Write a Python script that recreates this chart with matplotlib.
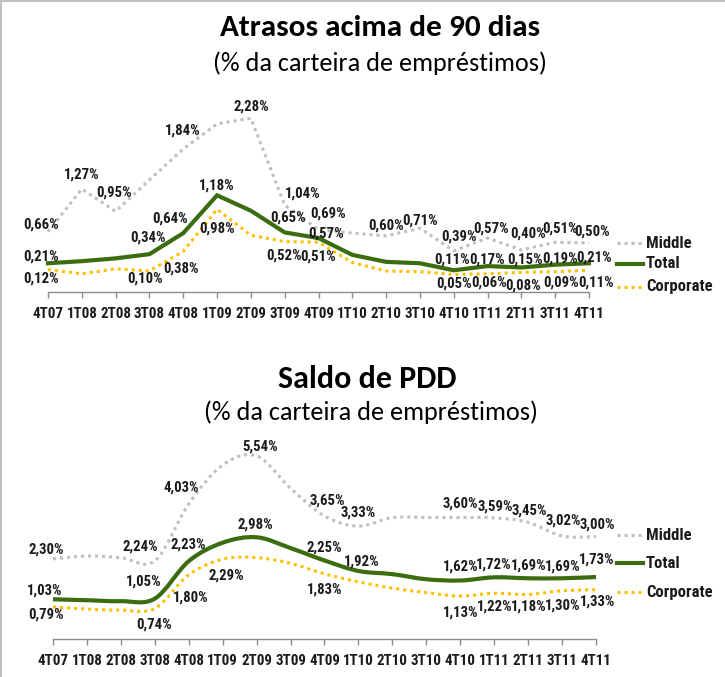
import matplotlib
matplotlib.use('Agg')
import matplotlib.pyplot as plt
from matplotlib import font_manager
from matplotlib.path import Path
from matplotlib.patches import PathPatch
from matplotlib.lines import Line2D

# ---------------- data ----------------
quarters = ['4T07', '1T08', '2T08', '3T08', '4T08', '1T09', '2T09', '3T09', '4T09',
            '1T10', '2T10', '3T10', '4T10', '1T11', '2T11', '3T11', '4T11']

atr_middle = [0.66, 1.27, 0.95, 1.40, 1.84, 2.20, 2.28, 1.04, 0.69, 0.64, 0.60, 0.71, 0.39, 0.57, 0.40, 0.51, 0.50]
atr_total = [0.21, 0.24, 0.28, 0.34, 0.64, 1.18, 0.96, 0.65, 0.57, 0.33, 0.23, 0.21, 0.11, 0.17, 0.15, 0.19, 0.21]
atr_corporate = [0.12, 0.06, 0.13, 0.10, 0.38, 0.98, 0.61, 0.52, 0.51, 0.22, 0.10, 0.09, 0.05, 0.06, 0.08, 0.09, 0.11]

pdd_middle = [2.30, 2.39, 2.34, 2.24, 4.03, 5.25, 5.54, 4.52, 3.65, 3.33, 3.60, 3.60, 3.60, 3.59, 3.45, 3.02, 3.00]
pdd_total = [1.03, 1.00, 0.97, 1.05, 2.23, 2.81, 2.98, 2.64, 2.25, 1.92, 1.82, 1.66, 1.62, 1.72, 1.69, 1.69, 1.73]
pdd_corporate = [0.79, 0.72, 0.69, 0.74, 1.80, 2.29, 2.34, 2.16, 1.83, 1.58, 1.38, 1.24, 1.13, 1.22, 1.18, 1.30, 1.33]

series_names = ['Middle', 'Total', 'Corporate']

# label placement: index -> (dx, dy) offset in pixels
atr_middle_lbl = {0: (-7, 7), 1: (0, 14), 2: (-2, 19), 4: (-1, 19), 6: (0, 12), 7: (18, 12), 8: (10, 16),
                  10: (0, 10), 11: (0, 8), 12: (5, 14), 13: (3, 10), 14: (7, 16), 15: (5, 14), 16: (3, 11)}
atr_total_lbl = {0: (-7, 7), 3: (-1, 17), 4: (-13, 15), 5: (0, 10), 7: (3, 15), 8: (8, 5),
                 12: (-2, 11), 13: (0, 7), 14: (4, 8), 15: (5, 6), 16: (5, 6)}
atr_corp_lbl = {0: (-7, -9), 3: (-4, -8), 4: (-2, -17), 5: (0, -19), 7: (-1, -14), 8: (0, -14),
                12: (0, -9), 13: (1, -9), 14: (2, -13), 15: (6, -11), 16: (7, -12)}

pdd_middle_lbl = {0: (-7, 9), 3: (-14, 14), 4: (-7, 16), 6: (4, 9), 8: (3, 15), 9: (0, 14),
                  12: (0, 14), 13: (1, 11), 14: (1, 12), 15: (1, 15), 16: (1, 12)}
pdd_total_lbl = {0: (-8, 9), 3: (-11, 17), 4: (0, 17), 6: (-1, 13), 8: (0, 13), 9: (3, 9),
                 12: (0, 14), 13: (0, 13), 14: (1, 13), 15: (1, 12), 16: (1, 17)}
pdd_corp_lbl = {0: (-7, -8), 3: (-1, -16), 4: (2, -23), 5: (4, -16), 8: (0, -16),
                12: (0, -16), 13: (1, -13), 14: (1, -12), 15: (1, -15), 16: (2, -12)}

# ---------------- styling ----------------
W, H = 725, 677
names = {f.name for f in font_manager.fontManager.ttflist}
narrow = 'Liberation Sans Narrow' if 'Liberation Sans Narrow' in names else (
    'Roboto Condensed' if 'Roboto Condensed' in names else 'Liberation Sans')
title_font = 'Carlito' if 'Carlito' in names else 'Lato'

C_MID = '#BFBFBF'
C_TOT = '#3B6D10'
C_COR = '#FFC000'
DOT = (0, (1, 1.3))

fig = plt.figure(figsize=(W / 100, H / 100), dpi=100)


def px_rect(l, t, r, b):
    return [l / W, 1 - b / H, (r - l) / W, (b - t) / H]


def smooth_path(xs, ys):
    n = len(xs)
    verts = [(xs[0], ys[0])]
    codes = [Path.MOVETO]
    for i in range(n - 1):
        x0, y0 = xs[max(i - 1, 0)], ys[max(i - 1, 0)]
        x1, y1 = xs[i], ys[i]
        x2, y2 = xs[i + 1], ys[i + 1]
        x3, y3 = xs[min(i + 2, n - 1)], ys[min(i + 2, n - 1)]
        c1 = (x1 + (x2 - x0) / 6, y1 + (y2 - y0) / 6)
        c2 = (x2 - (x3 - x1) / 6, y2 - (y3 - y1) / 6)
        verts += [c1, c2, (x2, y2)]
        codes += [Path.CURVE4] * 3
    return Path(verts, codes)


def draw_panel(rect, ylim, data, lbls, smooth, legend_y):
    ax = fig.add_axes(px_rect(*rect))
    ax.set_xlim(0, len(quarters) - 1)
    ax.set_ylim(*ylim)
    x = list(range(len(quarters)))
    styles = [(C_MID, 2.2, DOT), (C_TOT, 3.0, '-'), (C_COR, 2.2, DOT)]
    for vals, (c, lw, ls) in zip(data, styles):
        if smooth:
            p = PathPatch(smooth_path(x, vals), fill=False, edgecolor=c, lw=lw, linestyle=ls,
                          capstyle='butt', clip_on=False, zorder=3 if ls == '-' else 2)
            ax.add_patch(p)
        else:
            ax.plot(x, vals, color=c, lw=lw, linestyle=ls, clip_on=False,
                    solid_joinstyle='miter', zorder=3 if ls == '-' else 2)
    for vals, lab in zip(data, lbls):
        for i, (dx, dy) in lab.items():
            ax.annotate(f"{vals[i]:.2f}".replace('.', ',') + '%', (i, vals[i]),
                        xytext=(dx, dy), textcoords='offset pixels', ha='center', va='center',
                        fontsize=10.6, fontweight='bold', family=narrow, color='#1A1A1A',
                        annotation_clip=False, zorder=5)
    for s in ['top', 'right', 'left']:
        ax.spines[s].set_visible(False)
    ax.spines['bottom'].set_color('#8C8C8C')
    ax.spines['bottom'].set_linewidth(1.0)
    ax.set_yticks([])
    ax.set_xticks(x)
    ax.set_xticklabels(quarters, family=narrow, fontweight='bold', fontsize=10.8, color='#1A1A1A')
    ax.tick_params(axis='x', direction='out', length=4, width=1, color='#8C8C8C', pad=6.5)
    ax.patch.set_alpha(0)
    # legend
    for (c, lw, ls), name, ly in zip(styles, series_names, legend_y):
        fig.add_artist(Line2D([617 / W, 643 / W], [1 - ly / H, 1 - ly / H], color=c, lw=lw,
                              linestyle=ls, transform=fig.transFigure))
        fig.text(646 / W, 1 - ly / H, name, ha='left', va='center', fontsize=12,
                 fontweight='bold', family=narrow, color='#1A1A1A')
    return ax


draw_panel((48, 100, 589, 292), (-0.2, 2.54), [atr_middle, atr_total, atr_corporate],
           [atr_middle_lbl, atr_total_lbl, atr_corp_lbl], False, (243, 264, 287))
draw_panel((53, 440, 596, 639), (-0.22, 6.04), [pdd_middle, pdd_total, pdd_corporate],
           [pdd_middle_lbl, pdd_total_lbl, pdd_corp_lbl], True, (535, 563, 592))

# titles
fig.text(380 / W, 1 - 28 / H, 'Atrasos acima de 90 dias', ha='center', va='center',
         fontsize=22.5, fontweight='bold', family=title_font, color='black')
fig.text(380 / W, 1 - 63 / H, '(% da carteira de empréstimos)', ha='center', va='center',
         fontsize=18.8, family=title_font, color='black')
fig.text(367 / W, 1 - 379 / H, 'Saldo de PDD', ha='center', va='center',
         fontsize=23, fontweight='bold', family=title_font, color='black')
fig.text(371 / W, 1 - 412 / H, '(% da carteira de empréstimos)', ha='center', va='center',
         fontsize=18.8, family=title_font, color='black')

# frame lines (top and left)
fig.add_artist(Line2D([0, 1], [1 - 1 / H, 1 - 1 / H], color='#C0C0C0', lw=1.5, transform=fig.transFigure))
fig.add_artist(Line2D([1 / W, 1 / W], [0, 1], color='#C0C0C0', lw=1.5, transform=fig.transFigure))

fig.savefig('out.png', dpi=100)
